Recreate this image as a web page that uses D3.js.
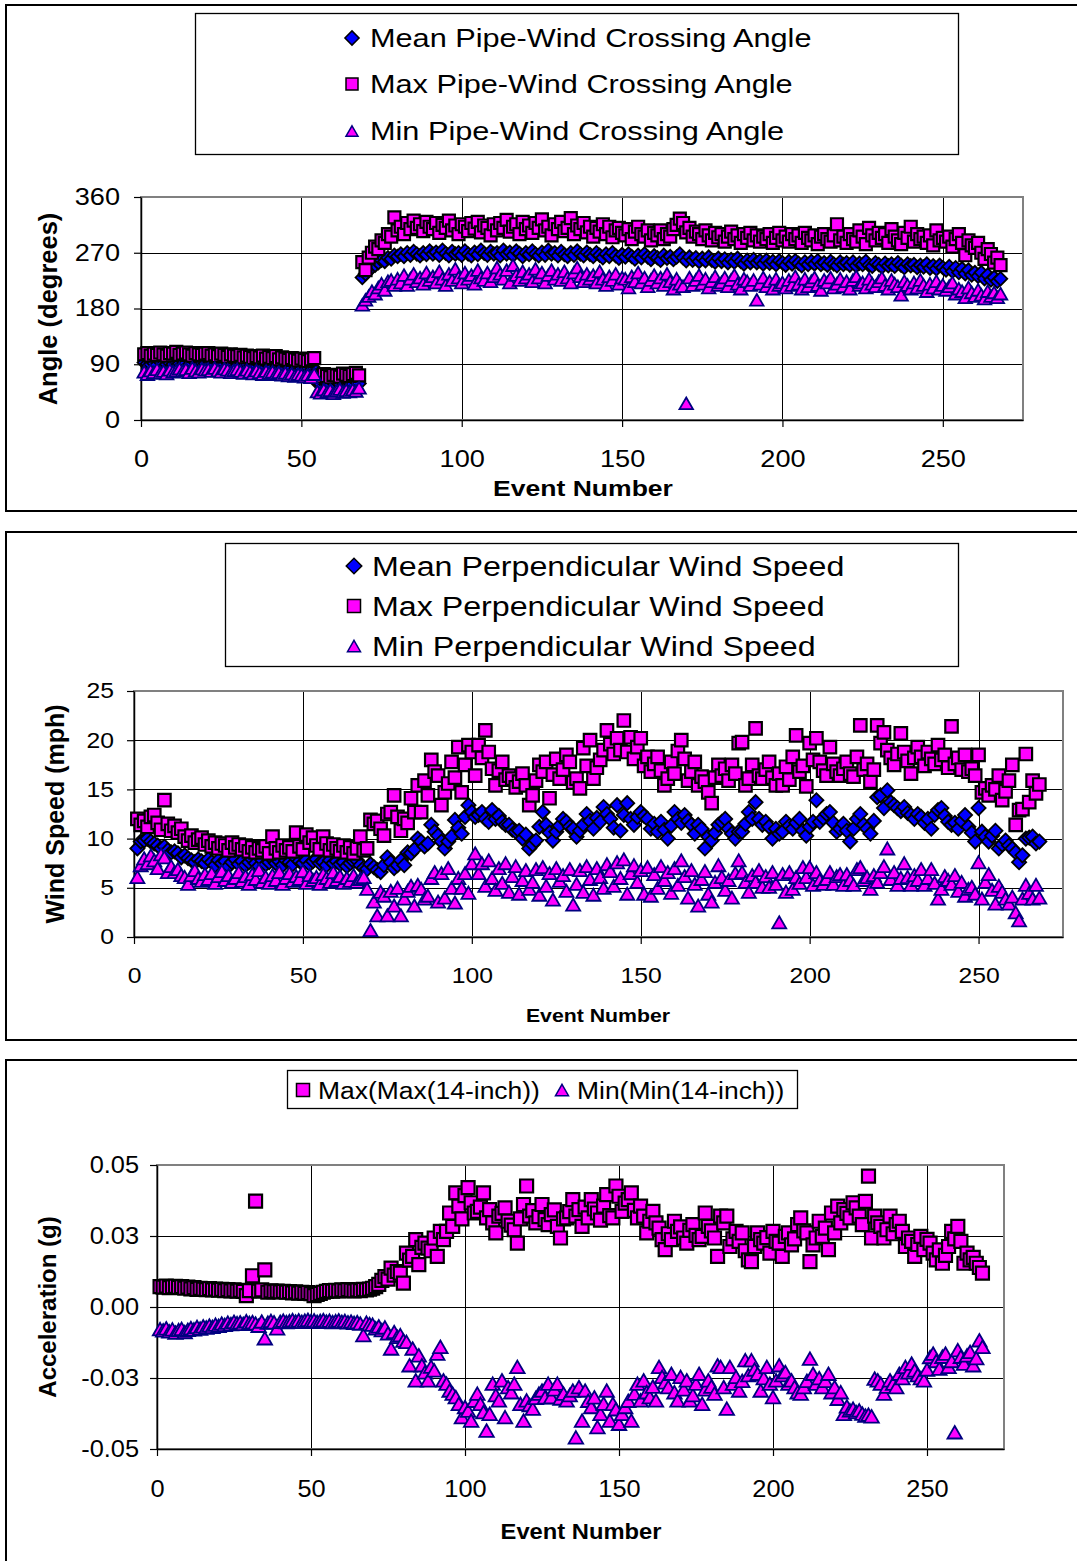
<!DOCTYPE html>
<html>
<head>
<meta charset="utf-8">
<script src="https://cdn.jsdelivr.net/npm/d3@7"></script>
<style>
  body { margin: 0; background: #fff; }
  svg { display: block; }
</style>
</head>
<body>
<svg id="chart" width="1077" height="1561"></svg>
<script>
// event numbers (categories)
const events = d3.range(1, 269);

// --- panel 1: pipe-wind crossing angle (degrees)
const angleMean = [
  93,91,90,92,89,94,91,90,92,90, 93,91,90,92,89,91,93,90,92,91,
  90,92,89,91,88,90,87,89,91,88, 89,87,90,86,88,87,89,86,85,87,
  86,84,87,85,83,86,84,82,85,83, 82,84,80,83,
  60,58,61,59,57,60,62,58,59,61,60,58,62,59,
  230,236,242,246,250,254,258,256,262,260,266,264,
  268,264,270,266,272,268,265,270,267,273, 268,271,266,274,269,265,272,268,270,266,
  273,268,265,271,267,274,269,266,272,268, 270,265,274,268,271,266,273,269,264,270,
  267,273,268,265,271,266,274,268,270,265, 272,267,264,270,266,273,268,265,271,267,
  264,270,266,262,268,264,270,265,261,267, 263,268,264,260,266,262,268,263,259,265,
  262,258,266,261,264,259,263,268,262,257, 263,258,262,256,261,257,263,258,255,261,
  256,260,254,259,255,261,256,252,258,254, 259,254,257,252,258,253,256,251,257,254,
  250,256,252,257,253,249,255,251,256,252, 257,251,254,250,256,252,249,255,251,254,
  250,255,249,253,251,256,250,248,254,251, 247,253,249,252,248,254,250,246,252,249,
  251,246,250,247,252,245,249,244,250,246, 242,248,240,246,238,244,236,242,234,238,
  232,238,228,234,226,230,224,228
];
const angleMax = [
  106,108,104,107,105,109,106,104,108,107, 110,105,107,109,106,104,108,106,105,107,
  108,104,106,103,107,105,102,106,104,103, 105,101,104,102,100,103,101,104,99,102,
  100,103,98,101,99,97,100,98,96,99, 97,95,98,100,
  72,70,74,71,69,73,72,70,75,73,71,74,76,72,
  255,242,262,270,280,276,290,286,300,296,327,306,
  312,300,318,308,322,310,316,305,320,312, 308,318,302,315,310,322,306,314,300,316,
  312,305,318,309,320,303,314,310,298,316, 306,318,310,323,304,312,316,300,320,308,
  314,302,318,310,324,306,312,298,316,308, 320,305,310,326,300,314,308,318,303,312,
  296,310,304,316,300,312,295,306,310,302, 298,308,292,304,312,300,296,306,290,302,
  298,306,292,300,296,308,315,325,318,303, 310,296,304,300,292,306,298,290,302,295,
  300,288,296,304,292,298,286,300,294,302, 290,298,288,296,292,300,286,294,302,290,
  296,288,300,292,298,286,302,294,290,298, 284,296,300,292,288,298,316,290,296,286,
  300,292,288,306,296,284,310,298,290,302, 294,300,286,308,296,290,284,302,294,312,
  288,300,292,296,286,298,282,306,290,294, 288,296,280,292,300,286,266,290,282,278,
  286,270,260,276,268,254,262,250
];
const angleMin = [
  78,74,80,77,82,76,79,75,81,78, 80,83,79,82,77,84,80,78,83,81,
  82,79,84,80,78,83,81,77,80,82, 79,76,81,78,75,80,77,74,79,76,
  78,74,77,73,76,72,75,71,74,73, 70,73,69,74,
  46,44,49,45,48,43,47,50,45,48,46,49,47,52,
  186,194,200,208,204,214,220,210,224,226,218,228,
  222,234,218,228,236,224,230,220,238,226, 232,222,240,228,218,236,226,244,230,222,
  238,228,234,220,242,230,226,238,224,232, 246,236,228,242,222,250,234,226,240,230,
  236,224,244,230,238,222,234,242,228,236, 226,240,230,222,238,246,232,224,236,228,
  234,222,240,228,218,232,226,236,220,230, 228,214,232,224,238,222,230,216,226,234,
  222,230,218,236,224,212,228,220,216,27, 230,218,226,234,220,228,214,224,232,218,
  222,230,216,226,234,220,212,228,224,218, 226,194,220,230,216,224,212,228,218,222,
  214,226,218,232,220,212,228,216,224,230, 218,210,226,222,230,214,220,228,216,224,
  212,226,232,218,222,214,228,220,216,224, 230,218,212,226,220,216,202,224,218,212,
  222,214,226,218,208,220,214,224,212,218, 210,216,222,204,212,208,198,214,206,200,
  210,202,196,208,200,206,198,204
];
const angleTicks = [0, 90, 180, 270, 360];

// --- panel 2: perpendicular wind speed (mph)
const speedMean = [
  9.0,9.7,9.8,10.0,9.7,9.5,9.3,9.0,9.2,8.8, 8.6,8.7,8.5,8.1,8.3,8.0,7.8,7.6,7.9,7.7,
  7.5,7.9,7.6,7.3,7.8,7.5,7.7,7.2,7.6,7.9, 7.4,7.7,7.3,7.6,7.9,7.5,7.2,7.8,7.4,7.6,
  7.9,7.5,7.7,7.3,7.8,7.6,7.4,8.0,7.7,7.5, 7.8,7.4,7.7,7.9,7.5,7.6,7.3,7.8,7.5,7.7,
  7.4,7.6,7.2,7.5,7.7,7.8,7.3,7.0,6.9,7.4, 7.1,6.8,6.6,7.3,8.1,7.6,7.0,7.3,7.8,7.3,
  8.6,8.5,8.9,10.0,9.7,9.2,9.5,11.4,10.7,10.3, 9.7,9.0,9.7,10.2,11.9,11.1,10.5,12.2,13.4,12.7,
  12.2,12.4,12.7,12.0,11.7,12.9,12.0,12.3,11.7,11.4, 11.4,10.9,10.7,10.8,10.0,10.4,9.0,9.4,9.8,11.2,
  12.7,11.4,10.6,9.8,10.7,11.3,12.0,11.7,11.2,11.0, 10.2,10.8,11.4,12.5,11.8,11.0,12.1,11.7,13.2,12.5,
  12.0,11.1,13.4,10.8,12.4,13.6,12.0,11.4,12.2,12.7, 12.3,12.0,11.0,11.5,10.7,11.7,10.9,10.0,11.3,12.7,
  12.0,11.6,12.4,11.8,11.4,10.5,11.4,11.0,9.0,10.2, 9.8,10.6,11.4,11.7,12.0,11.0,10.5,10.0,10.7,10.7,
  11.5,12.7,12.0,13.7,12.0,11.4,11.7,11.2,10.0,11.0, 10.5,10.7,11.7,11.3,11.0,11.6,12.0,10.8,10.3,11.2,
  11.7,13.9,11.7,12.1,12.5,12.7,11.6,10.7,11.0,11.5, 10.8,9.7,11.0,12.0,12.5,11.4,11.0,10.5,11.8,14.2,
  14.4,13.1,14.9,13.7,13.4,13.1,12.8,13.2,12.6,12.4, 12.0,12.5,12.2,11.6,12.0,11.0,12.4,12.9,13.1,12.3,
  11.7,11.4,11.6,11.0,11.8,12.4,11.2,10.6,9.7,13.1, 10.7,10.2,9.7,10.3,10.8,9.0,9.4,9.8,9.3,9.0,
  8.6,7.6,8.3,10.0,10.1,10.2,9.5,9.7
];
const speedMax = [
  12.0,11.4,11.8,11.2,12.2,12.4,11.6,10.9,13.9,11.5, 10.8,11.3,10.6,11.0,10.2,9.8,10.3,9.6,9.9,10.1,
  9.4,9.8,9.2,9.6,9.0,9.5,9.3,8.8,9.6,9.1, 9.4,8.9,9.3,8.7,9.1,8.6,9.0,8.8,9.2,8.5,
  10.2,9.0,8.6,9.3,8.8,9.1,8.7,10.6,9.2,8.9, 10.4,9.6,10.1,9.3,8.9,10.2,9.5,8.8,9.4,9.0,
  8.7,9.3,8.6,9.1,8.5,9.0,10.2,8.8,9.0,11.9, 11.5,11.8,11.0,10.3,12.5,12.7,14.4,12.2,10.8,12.0,
  11.6,14.1,12.7,15.4,12.7,15.9,14.4,18.0,16.8,16.4, 13.4,14.7,15.6,17.8,16.2,19.3,14.7,17.5,19.5,18.8,
  16.4,19.5,18.2,21.0,18.8,17.1,15.4,16.9,17.8,16.0, 16.4,16.1,15.2,15.8,16.6,15.4,13.4,14.4,15.9,17.5,
  16.8,17.8,14.1,16.5,18.1,16.1,17.0,18.5,17.8,15.7, 16.1,15.1,19.2,17.4,20.0,16.1,17.2,18.0,19.0,21.0,
  19.6,18.6,20.2,19.0,22.0,18.8,20.3,18.1,19.3,20.2, 17.4,18.3,16.8,17.6,18.3,16.9,15.4,16.1,17.8,16.6,
  18.9,20.0,18.1,15.9,16.8,17.8,15.4,16.3,15.8,14.7, 13.6,16.2,17.5,16.4,17.1,15.9,17.5,16.6,19.7,19.8,
  15.4,16.1,17.5,21.2,16.4,16.1,17.0,17.8,16.2,15.4, 16.6,15.4,17.3,16.0,18.3,20.5,16.8,17.4,15.3,19.7,
  18.0,20.2,17.8,16.9,16.4,19.3,17.6,16.8,16.4,17.1, 17.8,16.6,16.3,18.3,21.5,17.0,17.6,15.8,17.0,21.5,
  19.7,20.8,19.0,18.2,17.5,18.6,20.7,18.8,17.9,16.6, 18.2,19.3,18.3,17.4,18.8,18.1,17.6,19.5,18.0,18.5,
  17.2,21.4,17.6,18.2,17.0,18.5,16.8,17.1,16.4,18.5, 14.7,15.1,14.4,15.4,15.0,16.4,13.9,14.8,15.9,17.5,
  11.4,12.9,13.0,18.6,13.7,15.9,14.6,15.5
];
const speedMin = [
  6.1,7.3,8.0,7.5,8.3,7.8,7.0,8.4,8.1,6.6, 7.2,6.6,6.9,6.3,6.1,5.4,6.3,6.8,6.0,5.7,
  6.4,5.9,6.5,5.5,6.2,6.7,5.8,6.3,5.6,6.0, 6.6,5.7,6.2,5.4,6.4,5.9,6.8,5.6,6.1,5.5,
  6.3,5.8,6.6,5.4,6.0,6.5,5.7,6.2,5.9,6.7, 5.5,6.3,5.8,6.1,5.4,6.4,6.0,5.6,6.6,5.8,
  6.2,5.5,6.0,5.7,6.3,5.6,5.9,6.1,4.9,0.7, 3.6,2.2,4.6,4.2,2.2,4.7,3.2,5.0,2.2,3.9,
  4.7,5.2,3.2,5.3,4.9,3.9,4.2,6.0,6.6,3.6, 6.5,4.0,7.0,5.0,3.5,6.0,5.0,6.5,4.5,7.5,
  8.5,6.5,7.5,5.2,7.8,6.0,4.8,7.0,5.5,7.5, 4.6,6.2,7.2,4.4,5.8,6.8,4.9,5.6,6.9,4.3,
  7.1,5.2,6.5,3.8,7.0,5.7,6.3,4.7,6.9,3.3, 5.4,6.8,4.6,7.2,5.9,4.3,7.0,6.1,5.0,7.4,
  6.7,5.2,7.6,6.0,7.9,4.4,6.5,7.3,5.6,6.8, 4.4,7.1,4.2,6.4,5.0,7.2,5.8,6.6,4.5,7.0,
  5.3,7.8,6.2,4.0,6.8,5.4,3.2,5.9,6.7,4.4, 3.6,5.6,7.3,6.1,4.8,5.8,4.0,6.5,7.8,6.6,
  5.6,4.6,6.3,5.6,6.8,5.1,6.2,5.1,6.6,5.4, 1.5,6.4,4.6,6.6,4.9,6.1,5.5,7.1,6.1,7.1,
  5.3,6.6,5.8,5.4,5.9,6.6,5.4,6.2,6.4,5.3, 6.4,5.8,5.3,6.9,7.1,5.8,6.1,4.9,6.3,5.6,
  6.6,7.2,9.0,5.9,6.6,5.3,6.0,7.5,6.1,5.3, 6.3,5.8,6.9,5.3,6.0,6.9,5.5,3.9,4.9,6.2,
  5.8,5.4,6.3,4.7,5.6,4.2,4.9,5.1,4.4,7.6, 3.9,5.6,6.4,4.8,3.4,5.2,4.6,3.9,3.4,4.1,
  2.5,1.7,3.9,5.3,4.5,3.9,5.3,4.0
];
const speedTicks = [0, 5, 10, 15, 20, 25];

// --- panel 3: 14-inch acceleration (g)
const accelMax = [
  .0072,.0070,.0074,.0068,.0071,.0073,.0069,.0072,.0066,.0070, .0064,.0068,.0062,.0066,.0063,.0061,.0065,.0060,.0063,.0059,
  .0062,.0058,.0061,.0057,.0060,.0056,.0059,.0055,.0040,.0058, .0110,.0373,.0056,.0060,.0131,.0052,.0057,.0054,.0056,.0053,
  .0055,.0052,.0054,.0050,.0053,.0049,.0052,.0048,.0051,.0047, .0040,.0044,.0048,.0052,.0055,.0058,.0056,.0059,.0057,.0060,
  .0058,.0061,.0059,.0057,.0060,.0058,.0062,.0060,.0063,.0066, .0072,.0080,.0094,.0107,.0098,.0137,.0112,.0125,.0119,.0084,
  .0190,.0165,.0178,.0237,.0149,.0210,.0225,.0207,.0198,.0243, .0178,.0266,.0237,.0266,.0331,.0284,.0402,.0355,.0310,.0392,
  .0420,.0367,.0331,.0337,.0352,.0402,.0314,.0343,.0296,.0261, .0320,.0330,.0349,.0302,.0288,.0272,.0225,.0310,.0361,.0426,
  .0320,.0339,.0296,.0318,.0361,.0308,.0290,.0325,.0342,.0284, .0243,.0310,.0314,.0336,.0378,.0320,.0343,.0284,.0352,.0314,
  .0378,.0345,.0331,.0306,.0355,.0396,.0322,.0314,.0426,.0390, .0337,.0366,.0378,.0402,.0340,.0314,.0355,.0320,.0261,.0302,
  .0337,.0296,.0278,.0237,.0202,.0258,.0237,.0302,.0266,.0282, .0243,.0225,.0270,.0290,.0252,.0237,.0249,.0331,.0284,.0268,
  .0243,.0178,.0320,.0296,.0320,.0213,.0240,.0266,.0231,.0261, .0198,.0166,.0160,.0213,.0261,.0237,.0225,.0244,.0190,.0266,
  .0231,.0225,.0178,.0249,.0261,.0219,.0240,.0290,.0314,.0268, .0261,.0160,.0219,.0243,.0302,.0249,.0278,.0202,.0331,.0261,
  .0355,.0296,.0343,.0330,.0314,.0367,.0349,.0320,.0290,.0372, .0461,.0243,.0320,.0296,.0284,.0243,.0272,.0320,.0258,.0290,
  .0302,.0266,.0213,.0243,.0231,.0178,.0220,.0249,.0202,.0238, .0225,.0190,.0166,.0201,.0154,.0182,.0213,.0266,.0240,.0284,
  .0231,.0154,.0190,.0166,.0175,.0154,.0139,.0119
];
const accelMin = [
  -.0078,-.0082,-.0075,-.0086,-.0079,-.0090,-.0081,-.0077,-.0088,-.0080, -.0074,-.0079,-.0070,-.0076,-.0068,-.0072,-.0065,-.0070,-.0062,-.0066,
  -.0058,-.0063,-.0055,-.0060,-.0052,-.0057,-.0054,-.0059,-.0050,-.0056, -.0053,-.0058,-.0066,-.0051,-.0110,-.0055,-.0049,-.0054,-.0075,-.0052,
  -.0048,-.0053,-.0050,-.0046,-.0051,-.0047,-.0052,-.0048,-.0045,-.0050, -.0047,-.0052,-.0049,-.0046,-.0051,-.0048,-.0053,-.0050,-.0047,-.0052,
  -.0049,-.0054,-.0051,-.0056,-.0053,-.0058,-.0099,-.0055,-.0060,-.0062, -.0075,-.0068,-.0081,-.0072,-.0093,-.0146,-.0088,-.0105,-.0099,-.0118,
  -.0123,-.0205,-.0146,-.0258,-.0170,-.0205,-.0230,-.0258,-.0210,-.0223, -.0164,-.0140,-.0258,-.0270,-.0294,-.0305,-.0317,-.0341,-.0388,-.0352,
  -.0365,-.0400,-.0330,-.0305,-.0341,-.0370,-.0435,-.0376,-.0270,-.0310, -.0329,-.0258,-.0388,-.0282,-.0300,-.0270,-.0211,-.0341,-.0400,-.0329,
  -.0345,-.0358,-.0320,-.0305,-.0294,-.0318,-.0270,-.0317,-.0290,-.0270, -.0322,-.0305,-.0329,-.0310,-.0294,-.0459,-.0282,-.0400,-.0294,-.0330,
  -.0352,-.0318,-.0423,-.0376,-.0340,-.0294,-.0400,-.0341,-.0360,-.0411, -.0376,-.0352,-.0330,-.0400,-.0305,-.0270,-.0329,-.0258,-.0300,-.0317,
  -.0280,-.0329,-.0211,-.0246,-.0265,-.0282,-.0235,-.0300,-.0329,-.0246, -.0290,-.0258,-.0329,-.0310,-.0270,-.0235,-.0341,-.0290,-.0258,-.0280,
  -.0305,-.0205,-.0211,-.0282,-.0358,-.0211,-.0270,-.0246,-.0294,-.0260, -.0187,-.0240,-.0187,-.0220,-.0235,-.0294,-.0250,-.0211,-.0270,-.0317,
  -.0258,-.0205,-.0240,-.0229,-.0270,-.0258,-.0282,-.0300,-.0305,-.0282, -.0260,-.0182,-.0235,-.0270,-.0250,-.0282,-.0260,-.0235,-.0300,-.0282,
  -.0323,-.0300,-.0376,-.0350,-.0364,-.0358,-.0370,-.0364,-.0375,-.0382, -.0379,-.0385,-.0252,-.0258,-.0270,-.0305,-.0280,-.0258,-.0270,-.0282,
  -.0235,-.0250,-.0211,-.0230,-.0199,-.0223,-.0240,-.0250,-.0258,-.0220, -.0176,-.0164,-.0190,-.0217,-.0175,-.0164,-.0211,-.0190,-.0441,-.0152,
  -.0175,-.0199,-.0170,-.0158,-.0205,-.0180,-.0117,-.0140
];
const accelTicks = [-0.05, -0.025, 0, 0.025, 0.05];

const eventTicks = [0, 50, 100, 150, 200, 250];

const FONT = 'Arial, "Liberation Sans", sans-serif';
const svg = d3.select('#chart');

// marker paths, centred on the point
function markerPath(kind, s) {
  if (kind === 'diamond' || kind === 'square') return d3.symbol(d3.symbolSquare, s * s)();
  const h = s * Math.sqrt(3) / 2;
  return `M0,${-h / 2}L${s / 2},${h / 2}L${-s / 2},${h / 2}Z`;
}
const markerStyle = {
  diamond: { fill: '#0000ff', stroke: '#000', width: 1.8, rot: 45 },
  square: { fill: '#ff00ff', stroke: '#000', width: 2.2, rot: 0 },
  triangle: { fill: '#ff00ff', stroke: '#000080', width: 1.8, rot: 0 }
};

function addMarker(sel, kind, s) {
  const st = markerStyle[kind];
  return sel.append('path')
    .attr('d', markerPath(kind, s))
    .attr('fill', st.fill)
    .attr('stroke', st.stroke)
    .attr('stroke-width', st.width)
    .attr('stroke-linejoin', 'miter');
}

function drawPanel(p) {
  const g = svg.append('g');

  // outer frame
  g.append('rect')
    .attr('x', p.frame[0]).attr('y', p.frame[1])
    .attr('width', p.frame[2]).attr('height', p.frame[3])
    .attr('fill', '#fff').attr('stroke', '#000').attr('stroke-width', 2);

  const x = d3.scaleLinear().domain([0, 275]).range([p.left, p.right]);
  const y = d3.scaleLinear().domain([p.yTicks[0], p.yTicks[p.yTicks.length - 1]]).range([p.bottom, p.top]);

  // gridlines
  g.append('g').selectAll('line').data(p.yTicks.slice(1, -1)).join('line')
    .attr('x1', p.left).attr('x2', p.right)
    .attr('y1', d => Math.round(y(d)) + 0.5).attr('y2', d => Math.round(y(d)) + 0.5)
    .attr('stroke', '#000').attr('stroke-width', 1);
  g.append('g').selectAll('line').data(eventTicks.slice(1)).join('line')
    .attr('x1', d => Math.round(x(d)) + 0.5).attr('x2', d => Math.round(x(d)) + 0.5)
    .attr('y1', p.top).attr('y2', p.bottom)
    .attr('stroke', '#000').attr('stroke-width', 1);

  // plot border (grey top/right)
  g.append('rect')
    .attr('x', p.left).attr('y', p.top)
    .attr('width', p.right - p.left).attr('height', p.bottom - p.top)
    .attr('fill', 'none').attr('stroke', '#808080').attr('stroke-width', 2);

  // axes
  const gy = g.append('g').attr('transform', `translate(${p.left},0)`)
    .call(d3.axisLeft(y).tickValues(p.yTicks).tickFormat(p.yFormat).tickSize(7).tickSizeOuter(0).tickPadding(p.yPad));
  const gx = g.append('g').attr('transform', `translate(0,${p.bottom})`)
    .call(d3.axisBottom(x).tickValues(eventTicks).tickFormat(d3.format('d')).tickSize(7).tickSizeOuter(0).tickPadding(p.xPad));
  [gy, gx].forEach(a => {
    a.select('.domain').attr('stroke', '#000').attr('stroke-width', 1.5);
    a.selectAll('.tick line').attr('stroke', '#000').attr('stroke-width', 1.2);
    a.selectAll('.tick text')
      .attr('font-family', FONT).attr('font-size', p.tickFont).attr('fill', '#000');
  });
  gy.selectAll('.tick text')
    .attr('x', -(7 + p.yPad) / p.sx)
    .attr('transform', `scale(${p.sx},1)`);
  gx.selectAll('.tick text').attr('transform', `scale(${p.sx},1)`);

  // axis titles
  g.append('text')
    .attr('transform', `translate(${p.xTitle[0]},${p.xTitle[1]}) scale(${p.sx},1)`)
    .attr('text-anchor', 'middle').attr('dy', '0.35em')
    .attr('font-family', FONT).attr('font-weight', 'bold').attr('font-size', p.xTitleFont)
    .text('Event Number');
  g.append('text')
    .attr('transform', `translate(${p.yTitle[0]},${p.yTitle[1]}) rotate(-90)`)
    .attr('text-anchor', 'middle').attr('dy', '0.35em')
    .attr('font-family', FONT).attr('font-weight', 'bold').attr('font-size', p.yTitleFont)
    .text(p.yLabel);

  // points, drawn series by series
  const clip = 'clip' + p.id;
  g.append('clipPath').attr('id', clip).append('rect')
    .attr('x', p.left - 10).attr('y', p.top - 10)
    .attr('width', p.right - p.left + 20).attr('height', p.bottom - p.top + 20);
  const pts = g.append('g').attr('clip-path', `url(#${clip})`);
  p.series.forEach(s => {
    const st = markerStyle[s.kind];
    pts.append('g').selectAll('path').data(s.values).join('path')
      .attr('d', markerPath(s.kind, s.size))
      .attr('transform', (v, i) => `translate(${x(events[i])},${y(v)}) rotate(${st.rot})`)
      .attr('fill', st.fill).attr('stroke', st.stroke).attr('stroke-width', st.width);
  });

  // legend
  const L = p.legend;
  g.append('rect')
    .attr('x', L.box[0] + 0.5).attr('y', L.box[1] + 0.5)
    .attr('width', L.box[2]).attr('height', L.box[3])
    .attr('fill', '#fff').attr('stroke', '#000').attr('stroke-width', 1.3);
  p.series.forEach((s, i) => {
    const e = L.items[i];
    const st = markerStyle[s.kind];
    addMarker(g, s.kind, s.kind === 'diamond' ? L.markSize - 2 : L.markSize)
      .attr('stroke-width', 1.5)
      .attr('transform', `translate(${e[0]},${e[1]}) rotate(${st.rot})`);
    g.append('text')
      .attr('transform', `translate(${e[0] + L.gap},${e[1]}) scale(${p.sx},1)`)
      .attr('dy', '0.36em')
      .attr('font-family', FONT).attr('font-size', L.font).attr('fill', '#000')
      .text(s.label);
  });
}

drawPanel({
  id: 1, frame: [6, 5, 1090, 506],
  left: 141, right: 1023, top: 197, bottom: 420,
  yTicks: angleTicks, yFormat: d3.format('d'), yLabel: 'Angle (degrees)',
  sx: 1.18, tickFont: 23, yPad: 14, xPad: 24,
  xTitle: [583, 488], xTitleFont: 22.5, yTitle: [48, 309], yTitleFont: 25.5,
  series: [
    { kind: 'diamond', size: 9.5, values: angleMean, label: 'Mean Pipe-Wind Crossing Angle' },
    { kind: 'square', size: 12, values: angleMax, label: 'Max Pipe-Wind Crossing Angle' },
    { kind: 'triangle', size: 13.5, values: angleMin, label: 'Min Pipe-Wind Crossing Angle' }
  ],
  legend: { box: [195, 13, 763, 141], items: [[352, 38], [352, 84], [352, 131]], markSize: 12, gap: 18, font: 26 }
});

drawPanel({
  id: 2, frame: [6, 532, 1090, 508],
  left: 134, right: 1063, top: 691, bottom: 937,
  yTicks: speedTicks, yFormat: d3.format('d'), yLabel: 'Wind Speed (mph)',
  sx: 1.15, tickFont: 21.5, yPad: 13, xPad: 24,
  xTitle: [598, 1016], xTitleFont: 18.5, yTitle: [55, 814], yTitleFont: 25,
  series: [
    { kind: 'diamond', size: 10, values: speedMean, label: 'Mean Perpendicular Wind Speed' },
    { kind: 'square', size: 12.5, values: speedMax, label: 'Max Perpendicular Wind Speed' },
    { kind: 'triangle', size: 14, values: speedMin, label: 'Min Perpendicular Wind Speed' }
  ],
  legend: { box: [225, 543, 733, 123], items: [[354, 566], [354, 606], [354, 646]], markSize: 13, gap: 18, font: 28 }
});

drawPanel({
  id: 3, frame: [6, 1060, 1090, 510],
  left: 157, right: 1004, top: 1165, bottom: 1449,
  yTicks: accelTicks, yFormat: d => d.toFixed(2), yLabel: 'Acceleration (g)',
  sx: 1.08, tickFont: 23.5, yPad: 11, xPad: 24,
  xTitle: [581, 1531], xTitleFont: 22, yTitle: [48, 1307], yTitleFont: 24,
  series: [
    { kind: 'square', size: 13, values: accelMax, label: 'Max(Max(14-inch))' },
    { kind: 'triangle', size: 14.5, values: accelMin, label: 'Min(Min(14-inch))' }
  ],
  legend: { box: [287, 1070, 510, 38], items: [[303, 1090], [562, 1090]], markSize: 13, gap: 15, font: 24.5 }
});
</script>
</body>
</html>
